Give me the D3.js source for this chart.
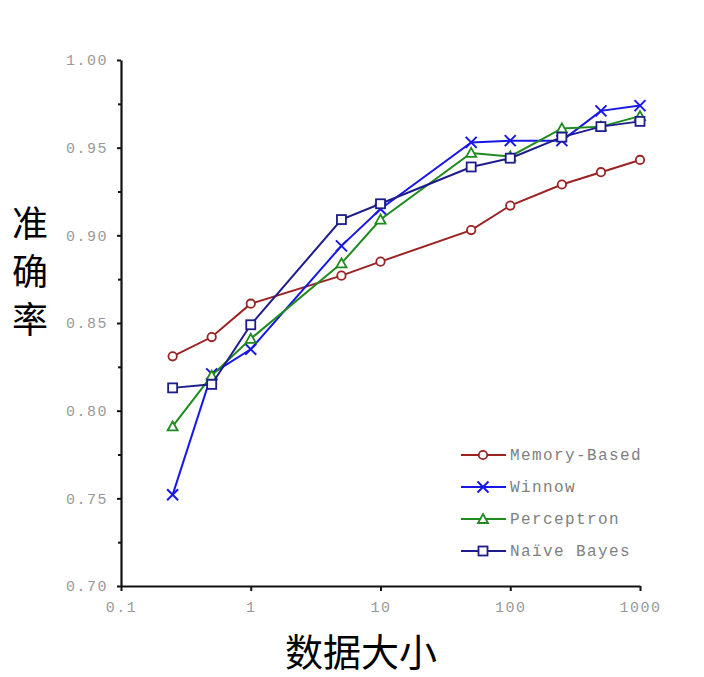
<!DOCTYPE html>
<html><head><meta charset="utf-8">
<script src="https://cdn.jsdelivr.net/npm/d3@7"></script>
<style>body{margin:0;background:#fff}svg{display:block}</style>
</head><body><svg id="c" width="704" height="677"></svg>
<script>
const sizes = [0.25, 0.5, 1, 5, 10, 50, 100, 250, 500, 1000];
const memoryBased = [0.831, 0.842, 0.861, 0.877, 0.885, 0.903, 0.917, 0.929, 0.936, 0.943];
const winnow      = [0.752, 0.821, 0.835, 0.894, 0.915, 0.953, 0.954, 0.954, 0.971, 0.974];
const perceptron  = [0.791, 0.820, 0.841, 0.884, 0.909, 0.947, 0.945, 0.961, 0.962, 0.968];
const naiveBayes  = [0.813, 0.815, 0.849, 0.909, 0.918, 0.939, 0.944, 0.956, 0.962, 0.965];
const seriesNames = ["Memory-Based", "Winnow", "Perceptron", "Naïve Bayes"];
const xTicks = [0.1, 1, 10, 100, 1000];
const xTickLabels = ["0.1", "1", "10", "100", "1000"];
const yTicks = [0.70, 0.75, 0.80, 0.85, 0.90, 0.95, 1.00];
const yMinorTicks = [0.725, 0.775, 0.825, 0.875, 0.925, 0.975];
const xTitle = "数据大小";
const yTitle = ["准", "确", "率"];

const series = [
  {name: seriesNames[0], values: memoryBased, color: "#9a2222", marker: "circle"},
  {name: seriesNames[1], values: winnow, color: "#1717e6", marker: "x"},
  {name: seriesNames[2], values: perceptron, color: "#1f8a1f", marker: "triangle"},
  {name: seriesNames[3], values: naiveBayes, color: "#1c1c8a", marker: "square"}
];

const mono = "Liberation Mono, DejaVu Sans Mono, monospace";
const svg = d3.select("#c");
const x = d3.scaleLog().domain([0.1, 1000]).range([121, 640]);
const y = d3.scaleLinear().domain([0.70, 1.00]).range([586, 60]);

// axes
const gx = svg.append("g").attr("transform", "translate(0,586)")
  .call(d3.axisBottom(x).tickValues(xTicks).tickFormat((d,i)=>xTickLabels[i]).tickSize(5).tickSizeOuter(0));
gx.select(".domain").attr("stroke", "#111").attr("stroke-width", 2.2);
gx.selectAll(".tick line").attr("stroke", "#111").attr("stroke-width", 2);
gx.selectAll(".tick text").attr("fill", "#999").attr("font-family", mono)
  .attr("font-size", 15).attr("letter-spacing", 1.5).attr("dy", "1.2em");

const gy = svg.append("g").attr("transform", "translate(121,0)")
  .call(d3.axisLeft(y).tickValues(yTicks).tickFormat(d3.format(".2f")).tickSize(4).tickSizeOuter(0));
gy.select(".domain").attr("stroke", "#111").attr("stroke-width", 2.2);
gy.selectAll(".tick line").attr("stroke", "#111").attr("stroke-width", 2);
gy.selectAll(".tick text").attr("fill", "#999").attr("font-family", mono)
  .attr("font-size", 15).attr("letter-spacing", 1.5).attr("x", -13);
const gym = svg.append("g").attr("transform", "translate(121,0)")
  .call(d3.axisLeft(y).tickValues(yMinorTicks).tickFormat("").tickSize(3).tickSizeOuter(0));
gym.select(".domain").remove();
gym.selectAll(".tick line").attr("stroke", "#111").attr("stroke-width", 2);

function drawMarker(g, type, color) {
  if (type === "circle") {
    g.append("circle").attr("r", 4.2).attr("fill", "#fff").attr("stroke", color).attr("stroke-width", 1.8);
  } else if (type === "x") {
    g.append("path").attr("d", "M-5.5,-5.5L5.5,5.5M-5.5,5.5L5.5,-5.5").attr("stroke", color).attr("stroke-width", 2).attr("fill", "none");
  } else if (type === "triangle") {
    g.append("path").attr("d", "M0,-5L5,4L-5,4Z").attr("fill", "#fff").attr("stroke", color).attr("stroke-width", 1.8);
  } else if (type === "square") {
    g.append("rect").attr("x", -4.5).attr("y", -4.5).attr("width", 9).attr("height", 9).attr("fill", "#fff").attr("stroke", color).attr("stroke-width", 1.8);
  }
}

const line = d3.line().x(d => x(d[0])).y(d => y(d[1]));
series.forEach(s => {
  const pts = sizes.map((v, i) => [v, s.values[i]]);
  svg.append("path").datum(pts).attr("d", line).attr("fill", "none").attr("stroke", s.color).attr("stroke-width", 2);
  pts.forEach(p => {
    const g = svg.append("g").attr("transform", `translate(${x(p[0])},${y(p[1])})`);
    drawMarker(g, s.marker, s.color);
  });
});

// legend
const leg = svg.append("g").attr("transform", "translate(461,455)");
series.forEach((s, i) => {
  const g = leg.append("g").attr("transform", `translate(0,${i * 32})`);
  g.append("line").attr("x1", 0).attr("x2", 45).attr("stroke", s.color).attr("stroke-width", 2);
  drawMarker(g.append("g").attr("transform", "translate(22,0)"), s.marker, s.color);
  g.append("text").attr("x", 49).attr("y", 5).text(s.name)
    .attr("fill", "#808080").attr("font-family", mono).attr("font-size", 16).attr("letter-spacing", 1.4);
});

// titles
svg.append("text").attr("x", 361).attr("y", 666).attr("text-anchor", "middle")
  .attr("font-family", "Noto Sans CJK SC").attr("font-size", 38).attr("fill", "#000").text(xTitle);
yTitle.forEach((ch, i) => {
  svg.append("text").attr("x", 30).attr("y", 237 + i * 48).attr("text-anchor", "middle")
    .attr("font-family", "Noto Sans CJK SC").attr("font-size", 36).attr("fill", "#000").text(ch);
});
</script></body></html>
